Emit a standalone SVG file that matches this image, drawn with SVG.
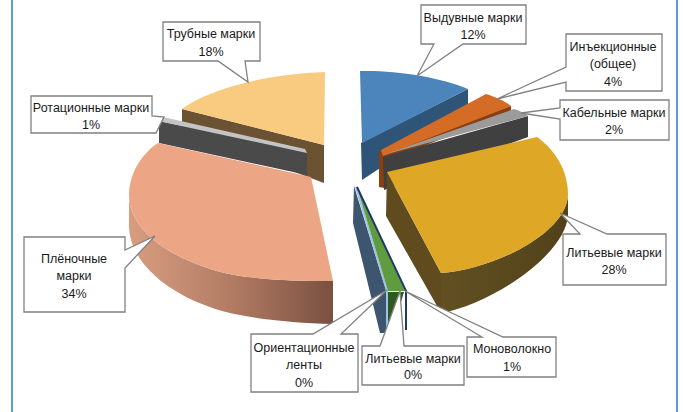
<svg xmlns="http://www.w3.org/2000/svg" width="683" height="412" viewBox="0 0 683 412">
<style>
.lbl{font-family:"Liberation Sans",Arial,sans-serif;font-size:12.5px;fill:#1a1a1a;text-anchor:middle}
.box{fill:#ffffff;stroke:#808080;stroke-width:1.3}
.frame{stroke:#5b9bd5;stroke-width:2}
</style>
<defs>
<linearGradient id="salmonSide" x1="129" y1="0" x2="333" y2="0" gradientUnits="userSpaceOnUse">
<stop offset="0" stop-color="#d89d80"/>
<stop offset="0.5" stop-color="#b27c64"/>
<stop offset="1" stop-color="#7a5040"/>
</linearGradient>
<linearGradient id="goldSide" x1="441" y1="0" x2="568" y2="0" gradientUnits="userSpaceOnUse">
<stop offset="0" stop-color="#625022"/>
<stop offset="1" stop-color="#52421a"/>
</linearGradient>
</defs>
<rect width="683" height="412" fill="#ffffff"/>
<line class="frame" x1="12" y1="0" x2="12" y2="412"/>
<line class="frame" x1="677" y1="0" x2="677" y2="412"/>

<g id="slice-trubnye">
<path d="M182,109 L324,145 L324,183 L308,177 L182,130 Z" fill="#6a5232"/>
<path d="M182,109 C205,92 260,74 325,72 L324,145 Z" fill="#f8cb80"/>
</g>
<g id="slice-rotacionnye">
<path d="M159,121 L307,152 L307,175 L159,143 Z" fill="#4a4a4a"/>
<path d="M158,121 L163,117 L305,149 L307,153 Z" fill="#c4c4c4"/>
</g>
<g id="slice-plenochnye">
<path d="M129,195 C129,238 190,268 240,276 C270,280 300,281 333,281 L333,324 C300,323 270,321 240,315 C185,305 129,270 129,225 Z" fill="url(#salmonSide)"/>
<path d="M311,177 L158,143 C140,155 129,175 129,195 C129,238 190,268 240,276 C270,280 300,281 333,281 Z" fill="#eca685"/>
</g>
<g id="slice-vyduvnye">
<path d="M468,89 L468,110 L362,180 L361,143 Z" fill="#2e5478"/>
<path d="M360,71 C395,70 440,77 468,89 L362,143 Z" fill="#4c84bc"/>
</g>
<g id="slice-inekcionnye">
<path d="M379,150 L383,152 L511,106 L511,111 L384,162 L384,188 L379,187 Z" fill="#8a3f10"/>
<path d="M381,150 L486,94 C495,97 505,101 511,106 L383,156 Z" fill="#d46c26"/>
</g>
<g id="slice-kabelnye">
<path d="M383,157 L528,116 L528,137 L384,190 Z" fill="#404040"/>
<path d="M383,155 L514,109 C520,111 525,113 528,116 Z" fill="#9b9b9b"/>
</g>
<g id="slice-litevye28">
<path d="M387,172 L441,273 L441,313 L386,216 Z" fill="#5f4b1e"/>
<path d="M441,273 C490,270 566,235 568,195 L568,215 C566,255 490,305 441,313 Z" fill="url(#goldSide)"/>
<path d="M387,172 L537,137 C555,150 568,170 568,195 C566,235 490,270 441,273 Z" fill="#dfa726"/>
</g>
<g id="slice-orientacionnye">
<path d="M354,186 L386,290 L386,333 L380,333 L353,223 Z" fill="#3e5570"/>
<path d="M356,187 L387,291 L387,333" fill="none" stroke="#9dc3e6" stroke-width="2"/>
</g>
<g id="slice-litevye0">
<path d="M357,187 L388,291 L405,291 Z" fill="#5e9c3e"/>
<path d="M388,292 L404,292 L396,318 L388,333 Z" fill="#2f5a1f"/>
</g>
<g id="slice-monovolokno">
<path d="M357,187 L406,291 L406,330" fill="none" stroke="#1f3864" stroke-width="2"/>
</g>

<g id="label-vyduvnye">
<path class="box" d="M421,5 H526 V44 H463 L417,76 L434,44 H421 Z"/>
<text class="lbl" x="473" y="21.5">Выдувные марки</text>
<text class="lbl" x="473" y="39">12%</text>
</g>
<g id="label-inekcionnye">
<path class="box" d="M566,34 H662 V91 H566 V82 L497,99 L566,67 Z"/>
<text class="lbl" x="613" y="50.5">Инъекционные</text>
<text class="lbl" x="613" y="68">(общее)</text>
<text class="lbl" x="613" y="85.5">4%</text>
</g>
<g id="label-kabelnye">
<path class="box" d="M560,100 H669 V140 H560 V119 L521,113 L560,108 Z"/>
<text class="lbl" x="614" y="116.5">Кабельные марки</text>
<text class="lbl" x="614" y="134">2%</text>
</g>
<g id="label-trubnye">
<path class="box" d="M163,22 H260 V61 H245 L248,82 L218,61 H163 Z"/>
<text class="lbl" x="211" y="38">Трубные марки</text>
<text class="lbl" x="211" y="55.5">18%</text>
</g>
<g id="label-rotacionnye">
<path class="box" d="M31,96 H152 V116 L164,117 L156,133 H31 Z"/>
<text class="lbl" x="91" y="111.5">Ротационные марки</text>
<text class="lbl" x="91" y="129">1%</text>
</g>
<g id="label-plenochnye">
<path class="box" d="M24,237 H125 V250 L155,236 L125,268 V312 H24 Z"/>
<text class="lbl" x="74" y="262.5">Плёночные</text>
<text class="lbl" x="74" y="280">марки</text>
<text class="lbl" x="74" y="297.5">34%</text>
</g>
<g id="label-litevye28">
<path class="box" d="M563,234 H580 L560,213 L607,234 H666 V285 H563 Z"/>
<text class="lbl" x="614" y="256.5">Литьевые марки</text>
<text class="lbl" x="614" y="274">28%</text>
</g>
<g id="label-orientacionnye">
<path class="box" d="M251,334 H313 L387,290 L341,334 H358 V392 H251 Z"/>
<text class="lbl" x="304" y="351.5">Ориентационные</text>
<text class="lbl" x="304" y="369">ленты</text>
<text class="lbl" x="304" y="386.5">0%</text>
</g>
<g id="label-litevye0">
<path class="box" d="M362,346 H380 L400,291 L404,346 H464 V385 H362 Z"/>
<text class="lbl" x="413" y="362.5">Литьевые марки</text>
<text class="lbl" x="413" y="379">0%</text>
</g>
<g id="label-monovolokno">
<path class="box" d="M467,337 H482 L405,291 L503,337 H556 V377 H467 Z"/>
<text class="lbl" x="512" y="352.5">Моноволокно</text>
<text class="lbl" x="512" y="371">1%</text>
</g>
</svg>
